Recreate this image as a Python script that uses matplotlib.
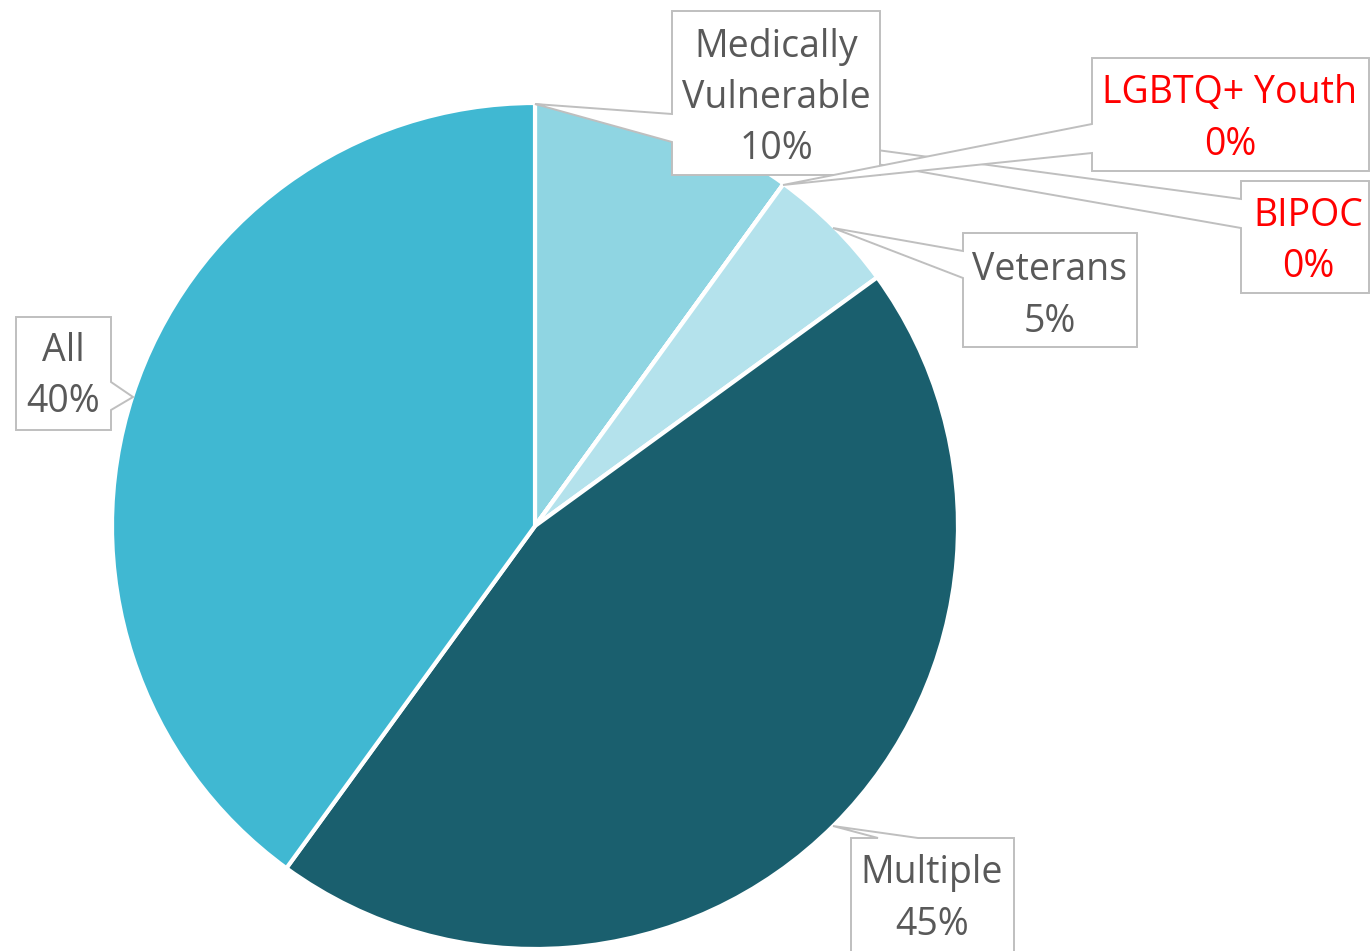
import matplotlib
matplotlib.use("Agg")
import matplotlib.pyplot as plt
from matplotlib.patches import Polygon

# data, clockwise from 12 o'clock
labels = ["Medically\nVulnerable", "LGBTQ+ Youth", "BIPOC", "Veterans", "Multiple", "All"]
values = [10, 0, 0, 5, 45, 40]
colors = ["#8fd5e2", "#8fd5e2", "#8fd5e2", "#b4e2ec", "#1a5f6e", "#40b8d2"]
label_colors = ["#595959", "#ff0000", "#ff0000", "#595959", "#595959", "#595959"]

W, H = 1370, 951
CX, CY, R = 535, 526, 423
GREY = "#bfbfbf"

# callout layout (pixel coords, y down): box, tip, side, wedge base, text x, baselines, zorder
callouts = [
    dict(box=(672, 11, 880, 175), tip=(535, 104), side="left", base=(114, 142), tx=776, ty=[57, 108, 159], z=4),
    dict(box=(1092, 58, 1369, 171), tip=(783, 185), side="left", base=(124, 153), tx=1230, ty=[103, 155], z=5),
    dict(box=(1241, 181, 1369, 293), tip=(535, 104), side="left", base=(199, 228), tx=1308, ty=[226, 277], z=3),
    dict(box=(963, 233, 1137, 347), tip=(833, 228), side="left", base=(251, 278), tx=1050, ty=[280, 332], z=4),
    dict(box=(851, 838, 1014, 965), tip=(833, 826), side="top", base=(878, 918), tx=932, ty=[883, 935], z=4),
    dict(box=(16, 317, 111, 430), tip=(133, 397), side="right", base=(382, 410), tx=63, ty=[361, 412], z=4),
]


def callout(ax, box, tip, side, base, z):
    x0, y0, x1, y1 = box
    b0, b1 = base
    pts = [(x0, y0)]
    if side == "top":
        pts += [(b0, y0), tip, (b1, y0)]
    pts.append((x1, y0))
    if side == "right":
        pts += [(x1, b0), tip, (x1, b1)]
    pts += [(x1, y1), (x0, y1)]
    if side == "left":
        pts += [(x0, b1), tip, (x0, b0)]
    ax.add_patch(Polygon(pts, closed=True, facecolor="white", edgecolor=GREY,
                         linewidth=1.4, zorder=z, joinstyle="miter"))


fig = plt.figure(figsize=(W / 100, H / 100), dpi=100)
ax = fig.add_axes([0, 0, 1, 1])

ax.pie(values, colors=colors, startangle=-90, counterclock=True,
       center=(CX, CY), radius=R,
       wedgeprops=dict(edgecolor="white", linewidth=3))

ax.set_xlim(0, W)
ax.set_ylim(H, 0)
ax.set_aspect("equal")
ax.axis("off")

for lab, val, col, c in zip(labels, values, label_colors, callouts):
    callout(ax, c["box"], c["tip"], c["side"], c["base"], c["z"])
    lines = lab.split("\n") + [f"{val}%"]
    for line, y in zip(lines, c["ty"]):
        ax.text(c["tx"], y, line, ha="center", va="baseline", fontsize=27,
                family="Open Sans", color=col, zorder=c["z"] + 0.5)

fig.savefig("out.png", dpi=100)
